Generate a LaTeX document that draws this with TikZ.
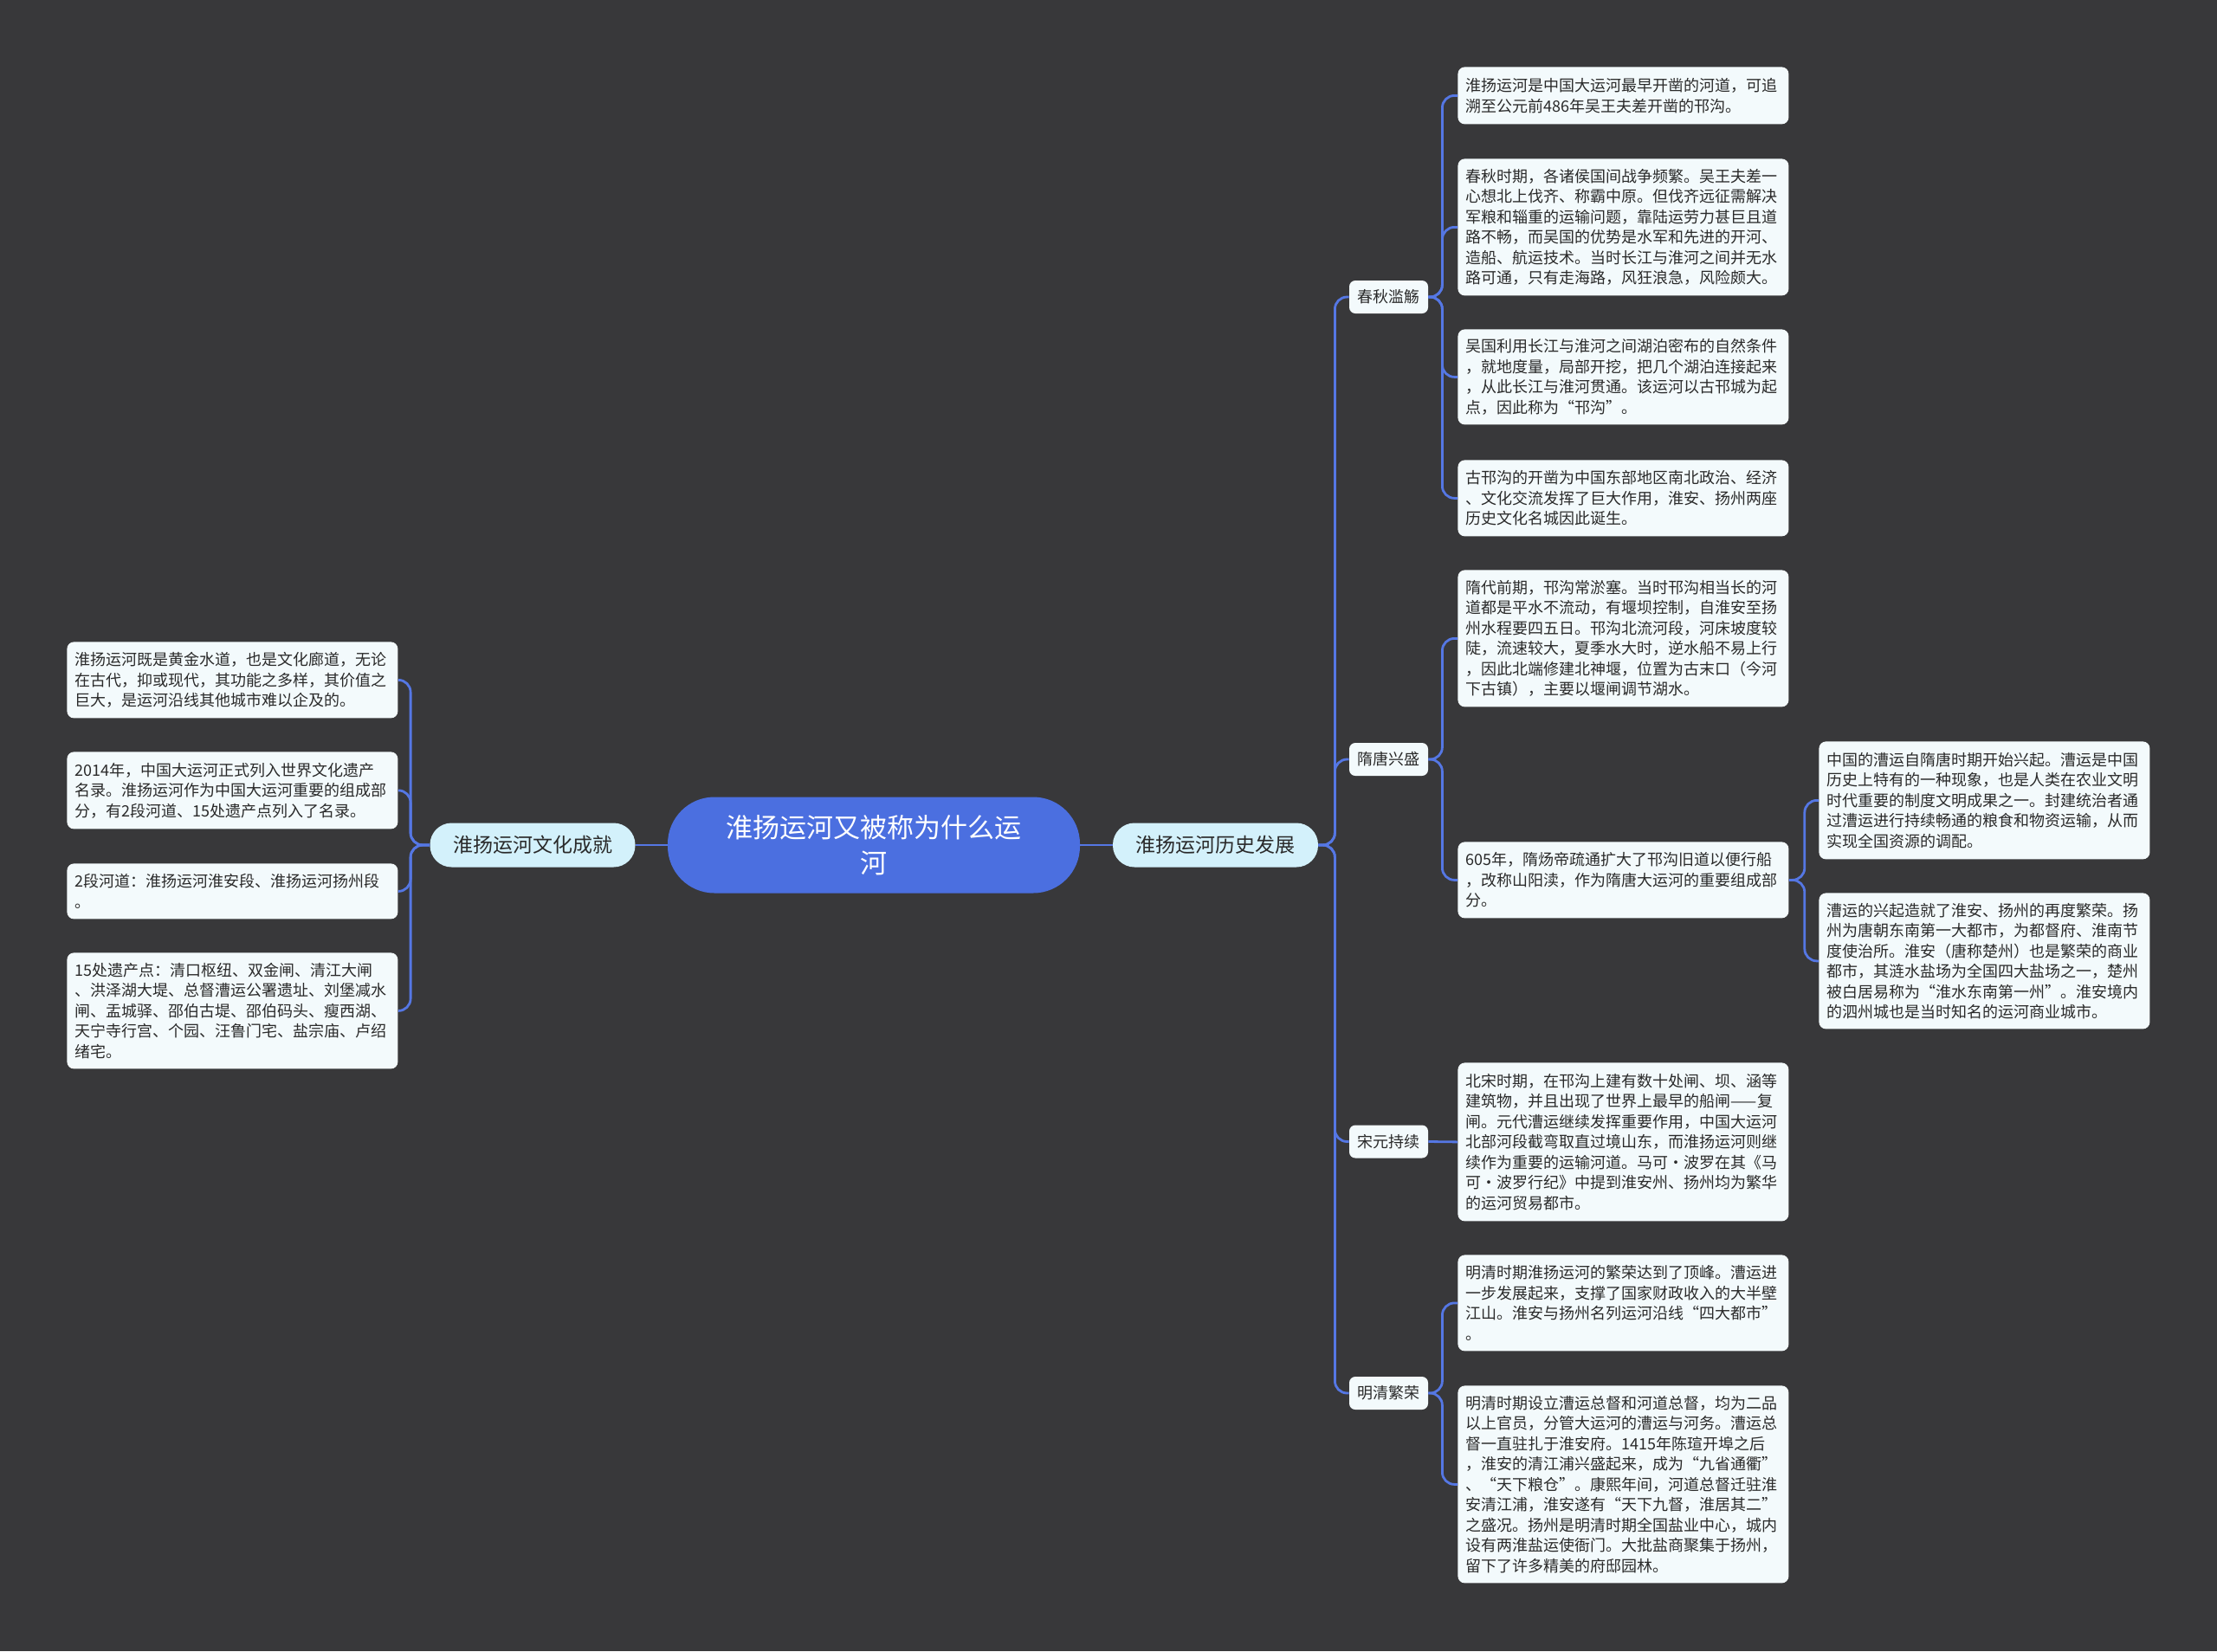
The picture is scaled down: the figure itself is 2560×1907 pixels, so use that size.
\documentclass[tikz,border=0pt]{standalone}
\usepackage{fontspec}
\setmainfont{Noto Sans CJK SC}
\usepackage{tikz}

\definecolor{bgcol}{HTML}{38383A}
\definecolor{rootcol}{HTML}{4B6FE0}
\definecolor{linkcol}{HTML}{5577E4}
\definecolor{topiccol}{HTML}{D3F1FB}
\definecolor{leafcol}{HTML}{F3FAFC}
\definecolor{inkcol}{HTML}{2A2A2A}

\begin{document}
\begin{tikzpicture}[x=0.5pt,y=-0.5pt,
    root/.style={fill=rootcol, text=white, rounded corners=27pt, minimum width=238pt,
      minimum height=55.5pt, align=center, inner sep=0pt, font=\fontsize{15.5}{20.5}\selectfont},
    topic/.style={fill=topiccol, text=inkcol, rounded corners=12.5pt, minimum width=118.5pt,
      minimum height=25.5pt, inner sep=0pt, font=\fontsize{11.5}{14}\selectfont},
    era/.style={fill=leafcol, text=inkcol, rounded corners=3.5pt, minimum width=45.5pt,
      minimum height=19pt, inner sep=0pt, font=\fontsize{9}{11}\selectfont},
    leaf/.style={fill=leafcol, text=inkcol, rounded corners=4pt, anchor=north west,
      text width=181.5pt, inner xsep=4.75pt, inner ysep=0pt, align=left,
      font=\fontsize{9}{11.75}\selectfont},
    link/.style={draw=linkcol, line width=1.4pt, rounded corners=7pt}]

  % background
  \fill[bgcol] (0,0) rectangle (2560,1907);

  % centre and main branches
  \node[root] (root) at (1009,976) {淮扬运河又被称为什么运\\河};
  \node[topic] (culture) at (615,976) {淮扬运河文化成就};
  \node[topic] (history) at (1403.5,976) {淮扬运河历史发展};

  % eras
  \node[era] (chunqiu) at (1603.5,343) {春秋滥觞};
  \node[era] (suitang) at (1603.5,877) {隋唐兴盛};
  \node[era] (songyuan) at (1603.5,1318.5) {宋元持续};
  \node[era] (mingqing) at (1603.5,1609) {明清繁荣};

  % history leaves
  \node[leaf, minimum height=33pt] (h1) at (1683,77)
    {淮扬运河是中国大运河最早开凿的河道，可追\\溯至公元前486年吴王夫差开凿的邗沟。};
  \node[leaf, minimum height=79pt] (h2) at (1683,183)
    {春秋时期，各诸侯国间战争频繁。吴王夫差一\\心想北上伐齐、称霸中原。但伐齐远征需解决\\军粮和辎重的运输问题，靠陆运劳力甚巨且道\\路不畅，而吴国的优势是水军和先进的开河、\\造船、航运技术。当时长江与淮河之间并无水\\路可通，只有走海路，风狂浪急，风险颇大。};
  \node[leaf, minimum height=55pt] (h3) at (1683,380)
    {吴国利用长江与淮河之间湖泊密布的自然条件\\，就地度量，局部开挖，把几个湖泊连接起来\\，从此长江与淮河贯通。该运河以古邗城为起\\点，因此称为“邗沟”。};
  \node[leaf, minimum height=44pt] (h4) at (1683,531)
    {古邗沟的开凿为中国东部地区南北政治、经济\\、文化交流发挥了巨大作用，淮安、扬州两座\\历史文化名城因此诞生。};
  \node[leaf, minimum height=79pt] (h5) at (1683,658)
    {隋代前期，邗沟常淤塞。当时邗沟相当长的河\\道都是平水不流动，有堰坝控制，自淮安至扬\\州水程要四五日。邗沟北流河段，河床坡度较\\陡，流速较大，夏季水大时，逆水船不易上行\\，因此北端修建北神堰，位置为古末口（今河\\下古镇），主要以堰闸调节湖水。};
  \node[leaf, minimum height=44pt] (h6) at (1683,972)
    {605年，隋炀帝疏通扩大了邗沟旧道以便行船\\，改称山阳渎，作为隋唐大运河的重要组成部\\分。};
  \node[leaf, minimum height=68pt] (h7) at (2100,856)
    {中国的漕运自隋唐时期开始兴起。漕运是中国\\历史上特有的一种现象，也是人类在农业文明\\时代重要的制度文明成果之一。封建统治者通\\过漕运进行持续畅通的粮食和物资运输，从而\\实现全国资源的调配。};
  \node[leaf, minimum height=78.5pt] (h8) at (2100,1031)
    {漕运的兴起造就了淮安、扬州的再度繁荣。扬\\州为唐朝东南第一大都市，为都督府、淮南节\\度使治所。淮安（唐称楚州）也是繁荣的商业\\都市，其涟水盐场为全国四大盐场之一，楚州\\被白居易称为“淮水东南第一州”。淮安境内\\的泗州城也是当时知名的运河商业城市。};
  \node[leaf, minimum height=91.5pt] (h9) at (1683,1227)
    {北宋时期，在邗沟上建有数十处闸、坝、涵等\\建筑物，并且出现了世界上最早的船闸——复\\闸。元代漕运继续发挥重要作用，中国大运河\\北部河段截弯取直过境山东，而淮扬运河则继\\续作为重要的运输河道。马可·波罗在其《马\\可·波罗行纪》中提到淮安州、扬州均为繁华\\的运河贸易都市。};
  \node[leaf, minimum height=55.5pt] (h10) at (1683,1449)
    {明清时期淮扬运河的繁荣达到了顶峰。漕运进\\一步发展起来，支撑了国家财政收入的大半壁\\江山。淮安与扬州名列运河沿线“四大都市”\\。};
  \node[leaf, minimum height=114pt] (h11) at (1683,1600)
    {明清时期设立漕运总督和河道总督，均为二品\\以上官员，分管大运河的漕运与河务。漕运总\\督一直驻扎于淮安府。1415年陈瑄开埠之后\\，淮安的清江浦兴盛起来，成为“九省通衢”\\、“天下粮仓”。康熙年间，河道总督迁驻淮\\安清江浦，淮安遂有“天下九督，淮居其二”\\之盛况。扬州是明清时期全国盐业中心，城内\\设有两淮盐运使衙门。大批盐商聚集于扬州，\\留下了许多精美的府邸园林。};

  % culture leaves
  \node[leaf, minimum height=44pt] (c1) at (77,741)
    {淮扬运河既是黄金水道，也是文化廊道，无论\\在古代，抑或现代，其功能之多样，其价值之\\巨大，是运河沿线其他城市难以企及的。};
  \node[leaf, minimum height=44.5pt] (c2) at (77,868)
    {2014年，中国大运河正式列入世界文化遗产\\名录。淮扬运河作为中国大运河重要的组成部\\分，有2段河道、15处遗产点列入了名录。};
  \node[leaf, minimum height=32pt] (c3) at (77,997)
    {2段河道：淮扬运河淮安段、淮扬运河扬州段\\。};
  \node[leaf, minimum height=67pt] (c4) at (77,1100)
    {15处遗产点：清口枢纽、双金闸、清江大闸\\、洪泽湖大堤、总督漕运公署遗址、刘堡减水\\闸、盂城驿、邵伯古堤、邵伯码头、瘦西湖、\\天宁寺行宫、个园、汪鲁门宅、盐宗庙、卢绍\\绪宅。};

  % links
  \draw[link] (root.east) -- (history.west);
  \draw[link] (root.west) -- (culture.east);
  \foreach \e in {chunqiu,suitang,songyuan,mingqing}
    \draw[link] (history.east) -- ++(19,0) |- (\e.west);
  \foreach \c in {h1,h2,h3,h4}
    \draw[link] (chunqiu.east) -- ++(16,0) |- (\c.west);
  \foreach \c in {h5,h6}
    \draw[link] (suitang.east) -- ++(16,0) |- (\c.west);
  \draw[link] (songyuan.east) -- (h9.west);
  \foreach \c in {h10,h11}
    \draw[link] (mingqing.east) -- ++(16,0) |- (\c.west);
  \foreach \c in {h7,h8}
    \draw[link] (h6.east) -- ++(18,0) |- (\c.west);
  \foreach \c in {c1,c2,c3,c4}
    \draw[link] (culture.west) -- ++(-22,0) |- (\c.east);
\end{tikzpicture}
\end{document}
